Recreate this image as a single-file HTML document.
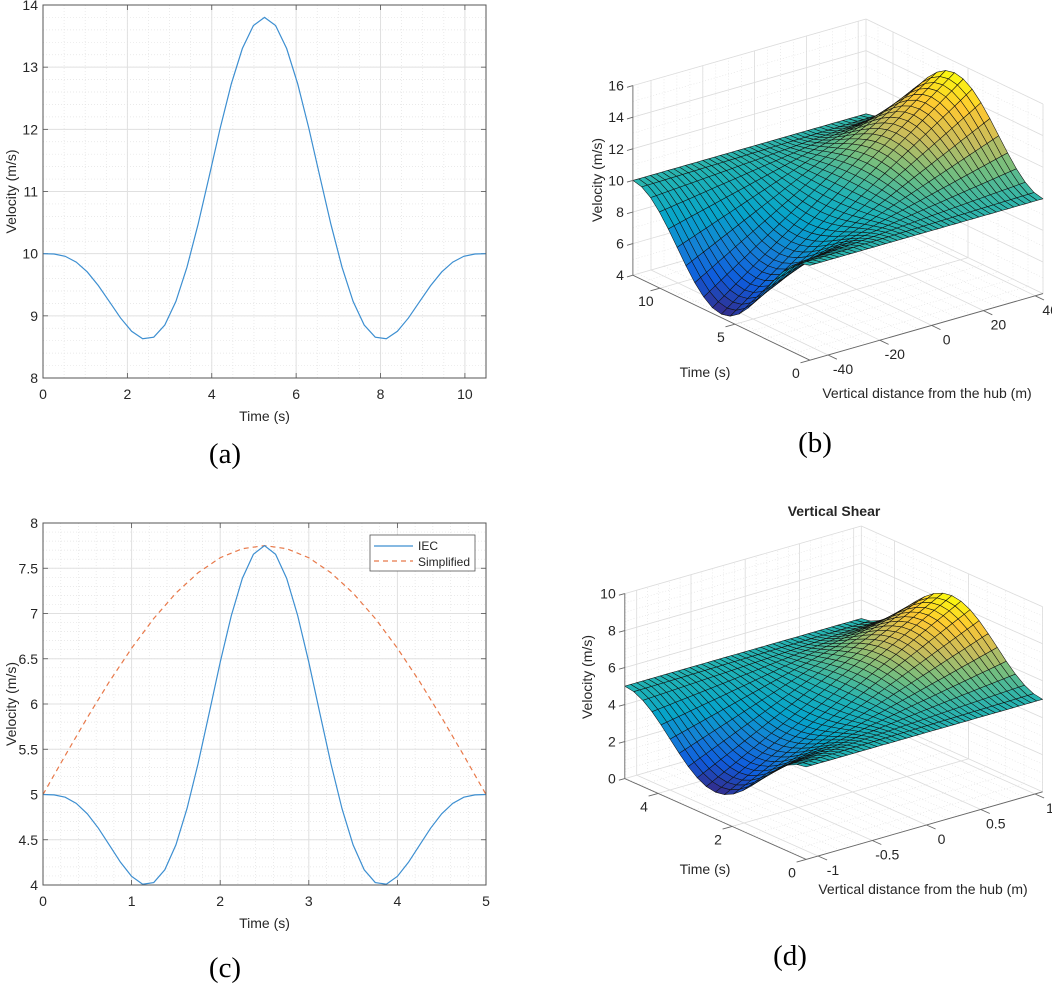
<!DOCTYPE html>
<html><head><meta charset="utf-8">
<style>
html,body{margin:0;padding:0;background:#fff;}
svg{display:block;font-family:"Liberation Sans",Arial,sans-serif;}
</style></head>
<body>
<svg id="fig" xmlns="http://www.w3.org/2000/svg" width="1052" height="985" viewBox="0 0 1052 985">
<rect width="1052" height="985" fill="#fff"/>
<g id="pa"></g>
<g id="pb"></g>
<g id="pc"></g>
<g id="pd"></g>
<text x="225" y="463" font-family="Liberation Serif,serif" font-size="29" text-anchor="middle">(a)</text>
<text x="815" y="452" font-family="Liberation Serif,serif" font-size="29" text-anchor="middle">(b)</text>
<text x="225" y="977" font-family="Liberation Serif,serif" font-size="29" text-anchor="middle">(c)</text>
<text x="790" y="965" font-family="Liberation Serif,serif" font-size="29" text-anchor="middle">(d)</text>
</svg>
<script>
// ---- data ----
const aVelocity = [10,9.995,9.958,9.865,9.706,9.486,9.227,8.966,8.752,8.632,8.657,8.852,9.232,9.783,10.47,11.24,12.02,12.73,13.30,13.67,13.80,13.67,13.30,12.73,12.02,11.24,10.47,9.783,9.232,8.852,8.657,8.632,8.752,8.966,9.227,9.486,9.706,9.865,9.958,9.995,10];
const aTimeEnd = 10.5;
const aXTicks = [0,2,4,6,8,10];
const aYTicks = [8,9,10,11,12,13,14];
const cIEC = [5,4.996,4.970,4.902,4.787,4.628,4.440,4.251,4.096,4.009,4.027,4.168,4.443,4.843,5.340,5.897,6.462,6.975,7.388,7.655,7.750,7.655,7.388,6.975,6.462,5.897,5.340,4.843,4.443,4.168,4.027,4.009,4.096,4.251,4.440,4.628,4.787,4.902,4.970,4.996,5];
const cSimplified = [5,5.430,5.850,6.249,6.616,6.945,7.225,7.450,7.616,7.716,7.75,7.716,7.616,7.450,7.225,6.945,6.616,6.249,5.850,5.430,5];
const cTimeEnd = 5;
const cXTicks = [0,1,2,3,4,5];
const cYTicks = [4,4.5,5,5.5,6,6.5,7,7.5,8];
const shearProfile = [0,.0245,.0955,.2061,.3455,.5,.6545,.7939,.9045,.9755,1,.9755,.9045,.7939,.6545,.5,.3455,.2061,.0955,.0245,0];
const bHub = 10, bShear = 0.123;
const bTTicks = [0,5,10], bZTicks = [-40,-20,0,20,40], bVTicks = [4,6,8,10,12,14,16];
const dHub = 5, dShear = 3.2;
const dTTicks = [0,2,4], dZTicks = [-1,-0.5,0,0.5,1], dVTicks = [0,2,4,6,8,10];

const NS = "http://www.w3.org/2000/svg";
function mk(parent, tag, attrs, name){
  const e = document.createElementNS(NS, tag);
  for (const k in attrs) e.setAttribute(k, attrs[k]);
  
  
  parent.appendChild(e); return e;
}
function txt(parent, x, y, s, size, anchor, name, extra){
  const e = mk(parent, 'text', Object.assign({x:x, y:y, 'font-size':size, 'text-anchor':anchor||'middle', fill:'#262626', 'dominant-baseline':'central'}, extra||{}), name);
  e.textContent = s; return e;
}
function fmt(v){ return (Math.round(v*100)/100).toString(); }

// ---- 2D line chart ----
function lineChart(g, o){
  const X = v => o.x0 + (v - o.xmin)/(o.xmax - o.xmin)*(o.x1 - o.x0);
  const Y = v => o.y1 - (v - o.ymin)/(o.ymax - o.ymin)*(o.y1 - o.y0);
  for (let v = o.xmin; v <= o.xmax + 1e-9; v += o.xMinor) mk(g,'line',{x1:X(v),x2:X(v),y1:o.y0,y2:o.y1,stroke:'#e3e3e3','stroke-width':0.7,'stroke-dasharray':'1,2'},'x-minor-grid');
  for (let v = o.ymin; v <= o.ymax + 1e-9; v += o.yMinor) mk(g,'line',{x1:o.x0,x2:o.x1,y1:Y(v),y2:Y(v),stroke:'#e3e3e3','stroke-width':0.7,'stroke-dasharray':'1,2'},'y-minor-grid');
  o.xTicks.forEach(v => {
    mk(g,'line',{x1:X(v),x2:X(v),y1:o.y0,y2:o.y1,stroke:'#e0e0e0','stroke-width':1},'x-grid');
    mk(g,'line',{x1:X(v),x2:X(v),y1:o.y1,y2:o.y1-5,stroke:'#555','stroke-width':0.8},'x-tick');
    mk(g,'line',{x1:X(v),x2:X(v),y1:o.y0,y2:o.y0+5,stroke:'#555','stroke-width':0.8},'x-tick-top');
    txt(g, X(v), o.y1+16, fmt(v), 14, 'middle', 'x-tick-label');
  });
  o.yTicks.forEach(v => {
    mk(g,'line',{x1:o.x0,x2:o.x1,y1:Y(v),y2:Y(v),stroke:'#e0e0e0','stroke-width':1},'y-grid');
    mk(g,'line',{x1:o.x0,x2:o.x0+5,y1:Y(v),y2:Y(v),stroke:'#555','stroke-width':0.8},'y-tick');
    mk(g,'line',{x1:o.x1,x2:o.x1-5,y1:Y(v),y2:Y(v),stroke:'#555','stroke-width':0.8},'y-tick-right');
    txt(g, o.x0-5, Y(v), fmt(v), 14, 'end', 'y-tick-label');
  });
  o.series.forEach(s => {
    const n = s.values.length;
    const pts = s.values.map((v,i) => X(o.xmin + i*(o.xmax-o.xmin)/(n-1)).toFixed(2)+','+Y(v).toFixed(2)).join(' ');
    mk(g,'polyline',{points:pts,fill:'none',stroke:s.color,'stroke-width':1.2,'stroke-dasharray':s.dash||'none'}, s.name);
  });
  mk(g,'rect',{x:o.x0,y:o.y0,width:o.x1-o.x0,height:o.y1-o.y0,fill:'none',stroke:'#555','stroke-width':1},'axes-box');
  txt(g,(o.x0+o.x1)/2,o.y1+38,'Time (s)',14,'middle','x-axis-title');
  txt(g,o.yLabelX,(o.y0+o.y1)/2,'Velocity (m/s)',14,'middle','y-axis-title',{transform:`rotate(-90 ${o.yLabelX} ${(o.y0+o.y1)/2})`});
}

lineChart(document.getElementById('pa'), {x0:43,x1:486,y0:5,y1:378,xmin:0,xmax:aTimeEnd,ymin:8,ymax:14,xTicks:aXTicks,yTicks:aYTicks,xMinor:0.5,yMinor:0.2,yLabelX:11,
  series:[{values:aVelocity,color:'#3d8fd1',name:'velocity-line'}]});
const gc = document.getElementById('pc');
lineChart(gc, {x0:43,x1:486,y0:523,y1:885,xmin:0,xmax:cTimeEnd,ymin:4,ymax:8,xTicks:cXTicks,yTicks:cYTicks,xMinor:0.2,yMinor:0.1,yLabelX:11,
  series:[{values:cSimplified,color:'#e8794a',dash:'5,4',name:'simplified-line'},{values:cIEC,color:'#3d8fd1',name:'iec-line'}]});
const lg = mk(gc,'g',{},'legend');
mk(lg,'rect',{x:370,y:535,width:105,height:36,fill:'#fff',stroke:'#555','stroke-width':0.8},'legend-box');
mk(lg,'line',{x1:374,x2:413,y1:546,y2:546,stroke:'#3d8fd1','stroke-width':1.2},'legend-iec-swatch');
mk(lg,'line',{x1:374,x2:413,y1:561,y2:561,stroke:'#e8794a','stroke-width':1.2,'stroke-dasharray':'5,4'},'legend-simplified-swatch');
txt(lg,418,546,'IEC',12,'start','legend-iec-label');
txt(lg,418,562,'Simplified',12,'start','legend-simplified-label');

// ---- 3D surface ----
const parula = [[53,42,135],[15,92,221],[20,129,214],[6,164,202],[30,178,182],[110,190,130],[200,188,92],[254,200,50],[249,251,14]];
function cmap(u){
  u = Math.max(0, Math.min(1, u)) * 8; const i = Math.min(7, Math.floor(u)), f = u - i;
  const a = parula[i], b = parula[i+1];
  return 'rgb(' + [0,1,2].map(k => Math.round(a[k] + (b[k]-a[k])*f)).join(',') + ')';
}
function surf(g, P){
  const pr = (t,z,v) => [P.ox + t*P.tv[0] + (z-P.zref)*P.zv[0], P.oy + t*P.tv[1] + (z-P.zref)*P.zv[1] - (v-P.vmin)*P.vs];
  const L = (a,b,attrs,name) => mk(g,'line',Object.assign({x1:a[0].toFixed(1),y1:a[1].toFixed(1),x2:b[0].toFixed(1),y2:b[1].toFixed(1)},attrs),name);
  const minorA = {stroke:'#e0e0e0','stroke-width':0.6,'stroke-dasharray':'1,2'}, majorA = {stroke:'#dcdcdc','stroke-width':0.8};
  const rng = (a,b,s) => { const r=[]; for(let v=Math.ceil(a/s-1e-9)*s; v<=b+1e-9; v+=s) r.push(v); return r; };
  rng(P.vmin,P.vmax,P.vMinor).forEach(v => { L(pr(P.tmax,P.zmin,v),pr(P.tmax,P.zmax,v),minorA,'wall-minor-grid'); L(pr(P.tmax,P.zmax,v),pr(0,P.zmax,v),minorA,'wall-minor-grid'); });
  rng(P.zmin,P.zmax,P.zMinor).forEach(z => { L(pr(P.tmax,z,P.vmin),pr(P.tmax,z,P.vmax),minorA,'wall-minor-grid'); L(pr(0,z,P.vmin),pr(P.tmax,z,P.vmin),minorA,'floor-minor-grid'); });
  rng(0,P.tmax,P.tMinor).forEach(t => { L(pr(t,P.zmax,P.vmin),pr(t,P.zmax,P.vmax),minorA,'wall-minor-grid'); L(pr(t,P.zmin,P.vmin),pr(t,P.zmax,P.vmin),minorA,'floor-minor-grid'); });
  P.vTicks.forEach(v => { L(pr(P.tmax,P.zmin,v),pr(P.tmax,P.zmax,v),majorA,'wall-grid'); L(pr(P.tmax,P.zmax,v),pr(0,P.zmax,v),majorA,'wall-grid'); });
  P.zTicks.forEach(z => { L(pr(P.tmax,z,P.vmin),pr(P.tmax,z,P.vmax),majorA,'wall-grid'); L(pr(0,z,P.vmin),pr(P.tmax,z,P.vmin),majorA,'floor-grid'); });
  P.tTicks.forEach(t => { L(pr(t,P.zmax,P.vmin),pr(t,P.zmax,P.vmax),majorA,'wall-grid'); L(pr(t,P.zmin,P.vmin),pr(t,P.zmax,P.vmin),majorA,'floor-grid'); });
  L(pr(P.tmax,P.zmax,P.vmin),pr(P.tmax,P.zmax,P.vmax),majorA,'back-edge');
  const nt = shearProfile.length, nz = P.nz;
  const T = i => i*P.tmax/(nt-1), Z = j => P.zmin + j*(P.zmax-P.zmin)/(nz-1);
  const V = (i,j) => P.hub + P.shear*Z(j)*shearProfile[i];
  let vlo = Infinity, vhi = -Infinity;
  for (let i=0;i<nt;i++) for (let j=0;j<nz;j++){ const v=V(i,j); vlo=Math.min(vlo,v); vhi=Math.max(vhi,v); }
  const quads = [];
  for (let i=0;i<nt-1;i++) for (let j=0;j<nz-1;j++){
    const tc=(T(i)+T(i+1))/2, zc=(Z(j)+Z(j+1))/2;
    quads.push({i,j,d: -(tc*P.tv[1] + zc*P.zv[1])});
  }
  quads.sort((a,b)=>b.d-a.d);
  const sg = mk(g,'g',{},'surface-mesh');
  quads.forEach(q => {
    const {i,j} = q;
    const c = [pr(T(i),Z(j),V(i,j)),pr(T(i+1),Z(j),V(i+1,j)),pr(T(i+1),Z(j+1),V(i+1,j+1)),pr(T(i),Z(j+1),V(i,j+1))];
    const vm = (V(i,j)+V(i+1,j)+V(i+1,j+1)+V(i,j+1))/4;
    const p = document.createElementNS(NS,'polygon');
    p.setAttribute('points', c.map(a=>a[0].toFixed(1)+','+a[1].toFixed(1)).join(' '));
    p.setAttribute('fill', cmap((vm-vlo)/(vhi-vlo)));
    p.setAttribute('stroke', '#111');
    p.setAttribute('stroke-width', '0.55');
    p.setAttribute('stroke-linejoin', 'round');
    
    
    sg.appendChild(p);
  });
  const ax = {stroke:'#666','stroke-width':0.9};
  L(pr(P.tmax,P.zmin,P.vmin),pr(P.tmax,P.zmin,P.vmax),ax,'v-axis-line');
  L(pr(0,P.zmin,P.vmin),pr(P.tmax,P.zmin,P.vmin),ax,'t-axis-line');
  L(pr(0,P.zmin,P.vmin),pr(0,P.zmax,P.vmin),ax,'z-axis-line');
  const zspan=(P.zmax-P.zmin), tspan=P.tmax;
  P.vTicks.forEach(v => { const a=pr(P.tmax,P.zmin,v), b=pr(P.tmax,P.zmin-zspan*0.025,v); L(a,b,ax,'v-tick'); txt(g,a[0]-9,a[1],fmt(v),14,'end','v-tick-label'); });
  P.tTicks.forEach(t => { const a=pr(t,P.zmin,P.vmin), b=pr(t,P.zmin-zspan*0.04,P.vmin); L(a,b,ax,'t-tick'); txt(g,a[0]-14,a[1]+13,fmt(t),14,'middle','t-tick-label'); });
  P.zTicks.forEach(z => { const a=pr(0,z,P.vmin), b=pr(-tspan*0.05,z,P.vmin); L(a,b,ax,'z-tick'); txt(g,a[0]+15,a[1]+14,fmt(z),14,'middle','z-tick-label'); });
  txt(g,P.tLab[0],P.tLab[1],'Time (s)',14,'middle','t-axis-title');
  txt(g,P.zLab[0],P.zLab[1],'Vertical distance from the hub (m)',14,'middle','z-axis-title');
  txt(g,P.vLab[0],P.vLab[1],'Velocity (m/s)',14,'middle','v-axis-title',{transform:`rotate(-90 ${P.vLab[0]} ${P.vLab[1]})`});
}
surf(document.getElementById('pb'), {ox:828,oy:355,tv:[-15,-7.2],zv:[2.59,-0.74],vs:15.8,zref:-40,vmin:4,vmax:16,tmax:11.8,zmin:-47,zmax:43,
  hub:bHub,shear:bShear,nz:41,tTicks:bTTicks,zTicks:bZTicks,vTicks:bVTicks,tMinor:1,zMinor:5,vMinor:1,
  tLab:[705,372],zLab:[927,393],vLab:[597,180]});
surf(document.getElementById('pd'), {ox:818,oy:856,tv:[-37,-16.5],zv:[108.5,-31],vs:18.5,zref:-1,vmin:0,vmax:10,tmax:4.9,zmin:-1.11,zmax:1.07,
  hub:dHub,shear:dShear,nz:41,tTicks:dTTicks,zTicks:dZTicks,vTicks:dVTicks,tMinor:0.5,zMinor:0.1,vMinor:0.5,
  tLab:[705,869],zLab:[923,889],vLab:[587,677]});
txt(document.getElementById('pd'),834,511,'Vertical Shear',14,'middle','chart-title',{'font-weight':'bold'});
</script>
</body></html>
